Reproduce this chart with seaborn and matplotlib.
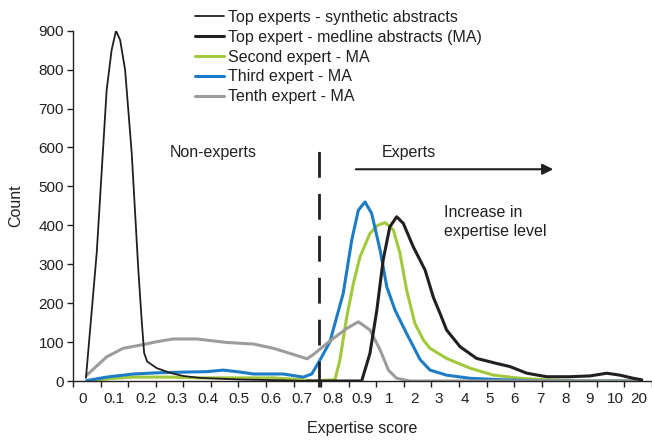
import numpy as np
import pandas as pd
import matplotlib
matplotlib.use("Agg")
import matplotlib.pyplot as plt
import seaborn as sns

# x axis: expertise score bins (category axis, one unit per bin)
score_labels = ["0", "0.1", "0.2", "0.3", "0.4", "0.5", "0.6", "0.7", "0.8", "0.9",
                "1", "2", "3", "4", "5", "6", "7", "8", "9", "10", "20"]
# where the printed labels sit along the axis in the original figure
label_pos = [-0.14, 0.99, 2.15, 3.27, 4.40, 5.52, 6.68, 7.81, 8.93, 9.98,
             10.98, 11.90, 12.77, 13.72, 14.62, 15.53, 16.44, 17.35, 18.22, 19.16, 20.03]

# Top experts - synthetic abstracts
synth_x = [-0.03, 0.36, 0.72, 0.90, 1.06, 1.21, 1.39, 1.63, 1.87, 1.99, 2.08, 2.19,
           2.54, 3.02, 3.49, 4.10, 5.50, 7.00, 8.00]
synth_y = [8, 329, 747, 850, 900, 876, 799, 585, 285, 157, 72, 50,
           33, 21, 13, 8, 4, 2, 0]

# Top expert - medline abstracts
ma_x = [8.00, 9.97, 10.27, 10.52, 10.75, 10.99, 11.24, 11.48, 11.84, 12.27, 12.57,
        12.81, 13.05, 13.54, 14.14, 14.87, 15.35, 15.96, 16.68, 17.53, 18.25,
        18.86, 19.34, 19.82, 20.13]
ma_y = [0, 0, 71, 182, 311, 396, 422, 405, 345, 285, 215,
        174, 131, 88, 58, 45, 37, 20, 11, 11, 13,
        20, 15, 7, 3]

# Second expert - MA
second_x = [0.00, 0.80, 1.68, 3.00, 4.10, 5.50, 6.75, 7.84, 8.20, 9.00, 9.18, 9.43,
            9.67, 9.91, 10.27, 10.55, 10.82, 11.12, 11.36, 11.60, 11.90, 12.21,
            12.45, 13.05, 13.90, 14.75, 15.71, 16.68, 18.00, 20.10]
second_y = [0, 6, 10, 10, 8, 8, 8, 3, 0, 3, 54, 165,
            251, 319, 379, 400, 407, 388, 328, 234, 148, 105,
            84, 58, 33, 15, 7, 3, 0, 0]

# Third expert - MA
third_x = [0.00, 0.72, 1.69, 2.54, 3.62, 4.35, 4.95, 5.56, 6.04, 7.13, 7.49, 7.85,
           8.16, 8.46, 8.82, 9.30, 9.61, 9.85, 10.09, 10.33, 10.64, 10.88, 11.18,
           11.60, 12.09, 12.45, 13.05, 13.90, 15.10, 16.50, 20.10]
third_y = [1, 10, 18, 21, 23, 24, 28, 23, 18, 18, 14, 10,
           18, 54, 101, 225, 362, 439, 460, 431, 336, 242, 182,
           122, 55, 28, 15, 7, 3, 0, 0]

# Tenth expert - MA
tenth_x = [0.00, 0.72, 1.32, 1.93, 2.54, 3.14, 3.99, 5.07, 6.04, 6.77, 7.37, 7.99,
           8.20, 8.82, 9.43, 9.85, 10.27, 10.64, 10.94, 11.24, 11.72, 20.10]
tenth_y = [15, 62, 84, 92, 101, 108, 108, 99, 95, 84, 71, 57,
           67, 103, 135, 152, 131, 80, 28, 7, 0, 0]

cutoff_pos = 8.42

dark = "#231f20"
green = "#a2c83b"
blue = "#1d7cc5"
grey = "#9c9c9c"

sns.set_theme(style="ticks")
plt.rcParams["font.family"] = ["Liberation Sans", "DejaVu Sans"]
plt.rcParams["text.color"] = dark
plt.rcParams["axes.labelcolor"] = dark

fs = 11.5

fig = plt.figure(figsize=(6.52, 4.40), dpi=100)
ax = fig.add_axes([73 / 652, 59 / 440, 579 / 652, 350.3 / 440])

series = [
    ("Second expert - MA", second_x, second_y, green, 2.2),
    ("Third expert - MA", third_x, third_y, blue, 2.2),
    ("Tenth expert - MA", tenth_x, tenth_y, grey, 2.2),
    ("Top expert - medline abstracts (MA)", ma_x, ma_y, dark, 2.2),
    ("Top experts - synthetic abstracts", synth_x, synth_y, dark, 1.3),
]
for name, xs, ys, col, lw in series:
    df = pd.DataFrame({"pos": xs, "count": ys})
    sns.lineplot(data=df, x="pos", y="count", ax=ax, color=col, linewidth=lw,
                 label=name, sort=False, estimator=None)

# cut-off between non-experts and experts
ax.vlines(cutoff_pos, -15, 601, colors=dark, linewidth=2,
          linestyles=(0, (9.3, 5.8)), clip_on=False)

ax.text(3.02, 588, "Non-experts", ha="left", va="center", fontsize=fs)
ax.text(10.71, 588, "Experts", ha="left", va="center", fontsize=fs)
ax.annotate("", xy=(17.02, 544), xytext=(9.66, 544),
            arrowprops=dict(arrowstyle="-|>", color=dark, lw=1.5, mutation_scale=16))
ax.text(12.96, 451, "Increase in\nexpertise level", ha="left", va="top",
        fontsize=fs, linespacing=1.3)

ax.set_xlim(-0.5, 20.5)
ax.set_ylim(0, 900)
ax.set_yticks(np.arange(0, 901, 100))
ax.set_xticks(label_pos)
ax.set_xticklabels(score_labels)
ax.set_xticks(np.arange(-0.5, 20.6, 1), minor=True)
ax.tick_params(axis="x", which="major", length=0, pad=8, labelsize=11, colors=dark)
ax.tick_params(axis="x", which="minor", length=4, width=1, color=dark, direction="out")
ax.tick_params(axis="y", length=4.5, width=1, pad=2, labelsize=11, colors=dark)

ax.set_xlabel("Expertise score", fontsize=fs)
ax.set_ylabel("Count", fontsize=fs)
ax.xaxis.set_label_coords(0.499, -0.115)
ax.yaxis.set_label_coords(-0.086, 0.5)

sns.despine(ax=ax)
for side in ["left", "bottom"]:
    ax.spines[side].set_color(dark)
    ax.spines[side].set_linewidth(1)

handles, labels = ax.get_legend_handles_labels()
order = [4, 3, 0, 1, 2]
ax.legend([handles[i] for i in order], [labels[i] for i in order],
          loc="upper left", bbox_to_anchor=(195 / 652, 1 - 10 / 440),
          bbox_transform=fig.transFigure, frameon=False, fontsize=fs,
          handlelength=1.8, handletextpad=0.25, labelspacing=0.3,
          borderpad=0, borderaxespad=0)

fig.savefig("out.png", dpi=100)
